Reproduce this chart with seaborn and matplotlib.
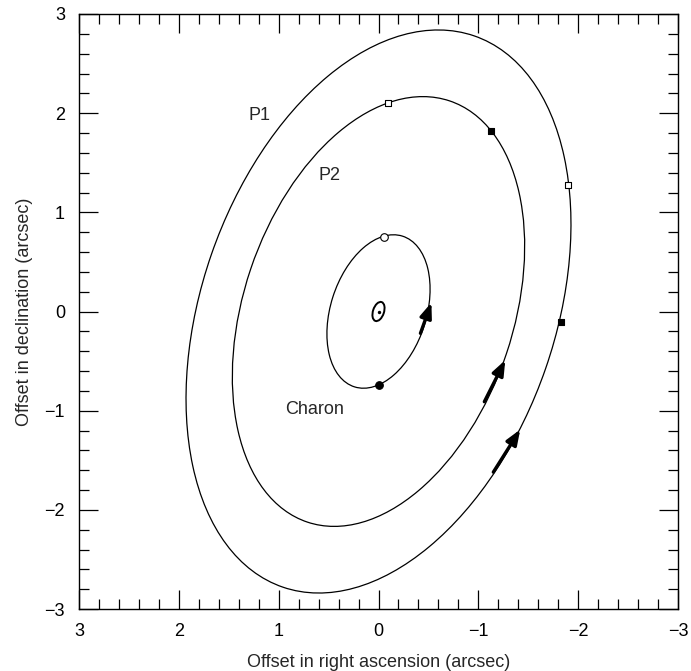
import matplotlib
matplotlib.use("Agg")
import matplotlib.pyplot as plt
from matplotlib.patches import Ellipse
from matplotlib.ticker import MultipleLocator
import pandas as pd
import seaborn as sns

# Orbits (arcsec): centre, semi-major, semi-minor, tilt
orbit_names = ["Pluto", "Charon", "P2", "P1"]
orbit_cx = [0.0, 0.0, 0.0, 0.0]
orbit_cy = [0.0, 0.0, 0.0, 0.0]
orbit_a = [0.10, 0.797, 2.24, 2.94]
orbit_b = [0.055, 0.480, 1.35, 1.77]
orbit_tilt = [108.0, 107.5, 108.5, 109.0]  # degrees, in data coordinates

# Positions marked on the orbits
mark_body = ["Charon", "Charon", "P2", "P2", "P1", "P1"]
mark_kind = ["open", "filled", "open", "filled", "open", "filled"]
mark_x = [-0.06, 0.00, -0.10, -1.13, -1.90, -1.83]
mark_y = [0.75, -0.74, 2.10, 1.82, 1.28, -0.11]

# Direction-of-motion arrows (tail -> tip)
arrow_tail_x = [-0.42, -1.06, -1.15]
arrow_tail_y = [-0.22, -0.91, -1.62]
arrow_tip_x = [-0.53, -1.27, -1.42]
arrow_tip_y = [0.09, -0.49, -1.19]

# Labels
label_text = ["P1", "P2", "Charon"]
label_x = [1.19, 0.49, 0.64]
label_y = [1.98, 1.37, -0.99]

marks = pd.DataFrame({"body": mark_body, "kind": mark_kind, "x": mark_x, "y": mark_y})

sns.set_theme(style="ticks")
plt.rcParams["font.family"] = ["Liberation Sans", "DejaVu Sans"]

fig = plt.figure(figsize=(6.91, 6.71), dpi=100)
ax = fig.add_axes([79 / 691, 62 / 671, 599 / 691, 595 / 671])

for name, cx, cy, a, b, t in zip(orbit_names, orbit_cx, orbit_cy, orbit_a, orbit_b, orbit_tilt):
    lw = 1.4 if name == "Pluto" else 0.9
    ax.add_patch(Ellipse((cx, cy), 2 * a, 2 * b, angle=t, fill=False,
                         edgecolor="black", linewidth=lw))

# Pluto itself
sns.scatterplot(x=[0.0], y=[0.0], ax=ax, color="black", s=6, linewidth=0)

# marked positions
styles = {("Charon", "open"): ("o", "white", 30),
          ("Charon", "filled"): ("o", "black", 30)}
for (body, kind), grp in marks.groupby(["body", "kind"]):
    marker = "o" if body == "Charon" else "s"
    face = "white" if kind == "open" else "black"
    size = 30 if body == "Charon" else 20
    sns.scatterplot(data=grp, x="x", y="y", ax=ax, marker=marker, s=size,
                    facecolor=face, edgecolor="black", linewidth=0.8, zorder=5)

for tx, ty, hx, hy in zip(arrow_tail_x, arrow_tail_y, arrow_tip_x, arrow_tip_y):
    ax.annotate("", xy=(hx, hy), xytext=(tx, ty),
                arrowprops=dict(arrowstyle="-|>,head_length=0.9,head_width=0.35",
                                lw=2.4, color="black", shrinkA=0, shrinkB=0,
                                mutation_scale=10))

for txt, lx, ly in zip(label_text, label_x, label_y):
    ax.text(lx, ly, txt, ha="center", va="center", fontsize=13)

ax.set_xlim(3, -3)
ax.set_ylim(-3, 3)
ax.xaxis.set_major_locator(MultipleLocator(1))
ax.yaxis.set_major_locator(MultipleLocator(1))
ax.xaxis.set_minor_locator(MultipleLocator(0.2))
ax.yaxis.set_minor_locator(MultipleLocator(0.2))
ax.tick_params(which="both", direction="in", top=True, right=True,
               width=0.9, colors="black", labelsize=13)
ax.tick_params(which="major", length=14, pad=10)
ax.tick_params(which="minor", length=7)
for sp in ax.spines.values():
    sp.set_linewidth(1.0)
    sp.set_color("black")

ax.set_xlabel("Offset in right ascension (arcsec)", fontsize=13, labelpad=10)
ax.set_ylabel("Offset in declination (arcsec)", fontsize=13, labelpad=8)

plt.savefig("out.png", dpi=100)
